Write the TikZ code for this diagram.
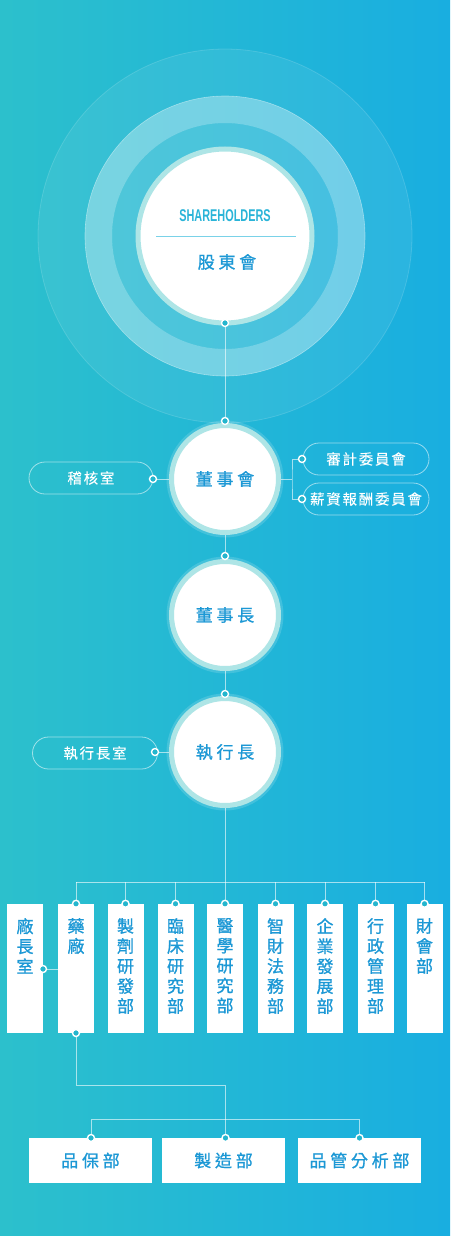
\documentclass[tikz,border=0pt]{standalone}
\usepackage{fontspec}
\newfontfamily\cjkL{Noto Sans CJK TC}[LetterSpace=22,FakeBold=1]
\newfontfamily\cjkS{Noto Sans CJK TC}[LetterSpace=12,FakeBold=1]
\newfontfamily\cjkV{Noto Sans CJK TC}[FakeBold=1]
\newfontfamily\condf{Liberation Sans}[FakeStretch=0.64]
\definecolor{bgL}{RGB}{44,192,204}
\definecolor{bgR}{RGB}{25,174,224}
\definecolor{ringc}{RGB}{174,229,230}
\definecolor{txtc}{RGB}{28,152,213}
\definecolor{engc}{RGB}{42,180,216}
\definecolor{dotc}{RGB}{36,182,206}
\definecolor{divc}{RGB}{122,210,232}
\begin{document}
\begin{tikzpicture}[x=1pt,y=-1pt,
  conn/.style={draw=white, draw opacity=0.6, line width=0.9pt},
  dotn/.style={circle, minimum size=7pt, inner sep=0pt, fill=dotc, draw=white, line width=1.4pt},
  bigc/.style={circle, inner sep=0pt, minimum size=107pt, fill=white, draw=ringc, line width=5pt,
    preaction={draw=white, draw opacity=0.15, line width=10pt},
    font=\cjkL\fontsize{17}{17}\selectfont, text=txtc},
  pill/.style={rectangle, rounded corners=16pt, draw=white, draw opacity=0.55, line width=0.8pt,
    minimum height=32pt, inner sep=0pt, text=white, font=\cjkS\fontsize{14.5}{14.5}\selectfont},
  vbox/.style={rectangle, fill=white, minimum width=36pt, minimum height=129pt, inner sep=0pt},
  vtxt/.style={anchor=north, inner sep=0pt, align=center, text=txtc, font=\cjkV\fontsize{17}{20}\selectfont},
  hbox/.style={rectangle, fill=white, minimum width=123pt, minimum height=45pt, inner sep=0pt,
    text=txtc, font=\cjkL\fontsize{17}{17}\selectfont}
]
% background
\shade[left color=bgL, right color=bgR] (0,0) rectangle (450,1236);
\useasboundingbox (0,0) rectangle (450,1236);

% concentric rings
\fill[white, opacity=0.07] (225,236) circle (187);
\draw[white, opacity=0.15, line width=0.8pt] (225,236) circle (187);
\fill[white, opacity=0.33, even odd rule] (225,236) circle (140) (225,236) circle (113);
\fill[white, opacity=0.12] (225,236) circle (113);
\draw[white, opacity=0.4, line width=0.6pt] (225,236) circle (140);

% shareholders circle
\node[circle, inner sep=0pt, minimum size=174pt, fill=white, draw=ringc, line width=5pt] (sh) at (225,236) {};
\node[text=engc, font=\condf\bfseries\fontsize{17}{17}\selectfont, inner sep=0pt] (shen) at (225,216) {SHAREHOLDERS};
\coordinate (divl) at (156,236);
\coordinate (divr) at (296,236);
\draw[divc, line width=0.8pt] (divl) -- (divr);
\node[text=txtc, font=\cjkL\fontsize{17}{17}\selectfont, inner sep=0pt] (shzh) at (227,262) {股東會};

% main circles
\node[bigc] (bd) at (225,479) {董事會};
\node[bigc] (ch) at (225,615) {董事長};
\node[bigc] (ceo) at (225,752) {執行長};

% pills
\node[pill, minimum width=124pt] (p1) at (91,478) {稽核室};
\node[pill, minimum width=126pt] (p2) at (366,459) {審計委員會};
\node[pill, minimum width=126pt] (p3) at (366,499) {薪資報酬委員會};
\node[pill, minimum width=125pt] (p4) at (95,753) {執行長室};

% vertical boxes
\node[vbox] (v1) at (25,968.5) {};
\node[vbox] (v2) at (76,968.5) {};
\node[vbox] (v3) at (125.5,968.5) {};
\node[vbox] (v4) at (175.5,968.5) {};
\node[vbox] (v5) at (225,968.5) {};
\node[vbox] (v6) at (275.5,968.5) {};
\node[vbox] (v7) at (325,968.5) {};
\node[vbox] (v8) at (375.5,968.5) {};
\node[vbox] (v9) at (424.5,968.5) {};
\node[vtxt] (t1) at (25,918) {廠\\長\\室};
\node[vtxt] (t2) at (76,918) {藥\\廠};
\node[vtxt] (t3) at (125.5,918) {製\\劑\\研\\發\\部};
\node[vtxt] (t4) at (175.5,918) {臨\\床\\研\\究\\部};
\node[vtxt] (t5) at (225,918) {醫\\學\\研\\究\\部};
\node[vtxt] (t6) at (275.5,918) {智\\財\\法\\務\\部};
\node[vtxt] (t7) at (325,918) {企\\業\\發\\展\\部};
\node[vtxt] (t8) at (375.5,918) {行\\政\\管\\理\\部};
\node[vtxt] (t9) at (424.5,918) {財\\會\\部};

% bottom boxes
\node[hbox] (h1) at (90.5,1160.5) {品保部};
\node[hbox] (h2) at (223.5,1160.5) {製造部};
\node[hbox] (h3) at (359.5,1160.5) {品管分析部};

% junction coordinates
\coordinate (jr) at (292,479);
\coordinate (bar) at (225,882);
\coordinate (j2) at (225.5,1085);
\coordinate (bar2) at (225,1119);

% dot positions
\coordinate (c0) at (225,323);
\coordinate (c1) at (225,421);
\coordinate (c2) at (225,556);
\coordinate (c3) at (225,694);
\coordinate (cp1) at (153,479);
\coordinate (cp2) at (302,459);
\coordinate (cp3) at (302,499);
\coordinate (cp4) at (155,752);
\coordinate (cv1) at (43,969);
\coordinate (cv2b) at (76,1033);
\coordinate (ch1) at (91,1138);
\coordinate (ch2) at (225.5,1138);
\coordinate (ch3) at (359.5,1138);

% connectors
\draw[conn] (c0) -- (c1);
\draw[conn] (bd.south) -- (c2);
\draw[conn] (ch.south) -- (c3);
\draw[conn] (cp1) -- (bd.west);
\draw[conn] (bd.east) -- (jr);
\draw[conn] (cp2) -| (jr) |- (cp3);
\draw[conn] (cp4) -- (ceo.west);
\draw[conn] (ceo.south) -- (bar);
\foreach \i in {2,...,9} { \draw[conn] (v\i.north) -- (v\i.north |- bar); }
\draw[conn] (v2.north |- bar) -- (v9.north |- bar);
\draw[conn] (cv1) -- (v2.west |- cv1);
\draw[conn] (cv2b) |- (j2) -- (ch2);
\draw[conn] (ch1) |- (bar2) -| (ch3);

% dots
\foreach \c in {c0,c1,c2,c3,cp1,cp2,cp3,cp4,cv1,cv2b,ch1,ch2,ch3} { \node[dotn] at (\c) {}; }
\foreach \i in {2,...,9} { \node[dotn] at (v\i.north) {}; }
\end{tikzpicture}
\end{document}
